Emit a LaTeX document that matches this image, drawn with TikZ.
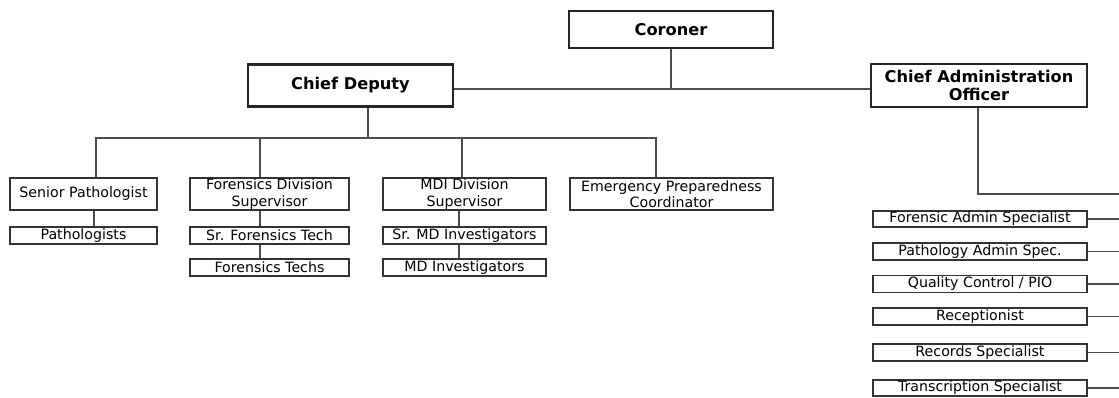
\documentclass[tikz,border=0pt]{standalone}
\usepackage{fontspec}
\setmainfont{DejaVu Sans}
\begin{document}
\begin{tikzpicture}[x=1pt,y=-1pt,
  topbox/.style={draw=black!85, line width=2.3pt, inner sep=0pt, align=center, font=\fontsize{16.2}{18}\selectfont\bfseries},
  midbox/.style={draw=black!80, line width=1.1pt, inner sep=0pt, align=center, minimum height=32pt, font=\fontsize{14.2}{16.5}\selectfont},
  smallbox/.style={draw=black!80, line width=1.1pt, inner sep=0pt, align=center, minimum height=17pt, font=\fontsize{14.2}{16.5}\selectfont},
  conn/.style={draw=black!70, line width=1.1pt}]
\useasboundingbox (0,0) rectangle (1119,397);
% top level
\node[topbox, minimum width=204pt, minimum height=37pt] (cor) at (671,29.5) {Coroner};
\node[topbox, minimum width=205pt, minimum height=42pt] (cd) at (350.5,85.5) {Chief Deputy};
\node[topbox, minimum width=216pt, minimum height=43pt, font=\fontsize{16.2}{18.5}\selectfont\bfseries] (cao) at (979,85.5) {Chief Administration\\Officer};
% deputy branch
\node[midbox, minimum width=147pt] (sp) at (83.5,194) {Senior Pathologist};
\node[smallbox, minimum width=147pt] (pa) at (83.5,235.5) {Pathologists};
\node[midbox, minimum width=159pt] (fds) at (269.5,194) {Forensics Division\\Supervisor};
\node[smallbox, minimum width=159pt] (sft) at (269.5,235.5) {Sr. Forensics Tech};
\node[smallbox, minimum width=159pt] (ft) at (269.5,267.5) {Forensics Techs};
\node[midbox, minimum width=163pt] (mds) at (464.5,194) {MDI Division\\Supervisor};
\node[smallbox, minimum width=163pt] (smi) at (464.5,235.5) {Sr. MD Investigators};
\node[smallbox, minimum width=163pt] (mi) at (464.5,267.5) {MD Investigators};
\node[midbox, minimum width=203pt] (epc) at (671.5,194) {Emergency Preparedness\\Coordinator};
% admin branch
\node[smallbox, minimum width=214pt, minimum height=16pt] (fas) at (980,219) {Forensic Admin Specialist};
\node[smallbox, minimum width=214pt] (pas) at (980,251.5) {Pathology Admin Spec.};
\node[smallbox, minimum width=214pt] (qc) at (980,284) {Quality Control / PIO};
\node[smallbox, minimum width=214pt] (rec) at (980,316.5) {Receptionist};
\node[smallbox, minimum width=214pt] (rs) at (980,352.5) {Records Specialist};
\node[smallbox, minimum width=214pt, minimum height=16pt] (ts) at (980,388) {Transcription Specialist};
% coordinates
\coordinate (hl) at (671,89);
\coordinate (bus) at (368,138);
\coordinate (b1) at (96,138);
\coordinate (b2) at (260,138);
\coordinate (b3) at (462,138);
\coordinate (b4) at (656,138);
\coordinate (ca) at (978,194);
\coordinate (edge) at (1119,194);
% connectors
\draw[conn] (cor.south -| hl) -- (hl);
\draw[conn] (cd.east |- hl) -- (cao.west |- hl);
\draw[conn] (cd.south -| bus) -- (bus);
\draw[conn] (b1 |- sp.north) -- (b1) -- (b4) -- (b4 |- epc.north);
\draw[conn] (b2) -- (b2 |- fds.north);
\draw[conn] (b3) -- (b3 |- mds.north);
\coordinate (s1) at (94,0);
\coordinate (s2) at (260,0);
\coordinate (s3) at (459,0);
\draw[conn] (s1 |- sp.south) -- (s1 |- pa.north);
\draw[conn] (s2 |- fds.south) -- (s2 |- sft.north);
\draw[conn] (s2 |- sft.south) -- (s2 |- ft.north);
\draw[conn] (s3 |- mds.south) -- (s3 |- smi.north);
\draw[conn] (s3 |- smi.south) -- (s3 |- mi.north);
\draw[conn] (cao.south -| ca) -- (ca) -- (edge);
\foreach \n in {fas,pas,qc,rec,rs,ts}{
  \draw[conn] (\n.east) -- (\n.east -| edge);
}
\end{tikzpicture}
\end{document}
